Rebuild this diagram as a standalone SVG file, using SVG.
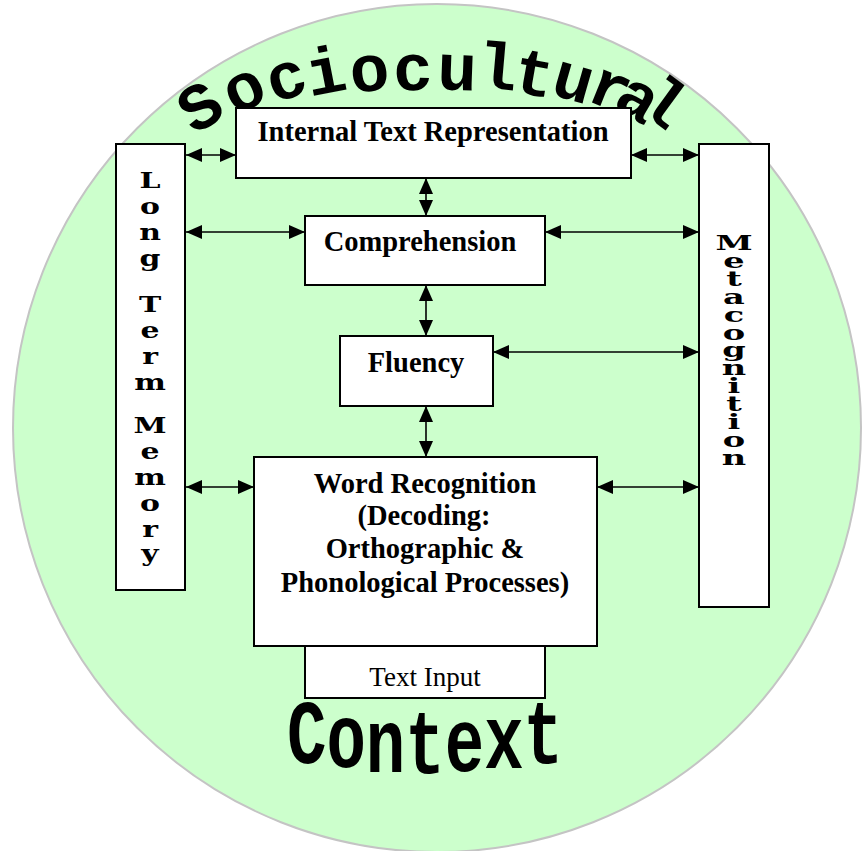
<svg xmlns="http://www.w3.org/2000/svg" width="862" height="851" viewBox="0 0 862 851">
<defs>
<style>
.box{fill:#ffffff;stroke:#000000;stroke-width:2}
.lbl{font-family:"Liberation Serif","Times New Roman",serif;font-weight:bold;font-size:28.5px;fill:#000;text-anchor:middle}
.reg{font-family:"Liberation Serif","Times New Roman",serif;font-size:27px;fill:#000;text-anchor:middle}
.vert{font-family:"DejaVu Serif","Liberation Serif",serif;font-weight:bold;fill:#000;text-anchor:middle}
.big{font-family:"Liberation Mono","Courier New",monospace;font-weight:bold;fill:#000}
.con{fill:none;stroke:#000;stroke-width:1.6;marker-start:url(#ah);marker-end:url(#ah)}
</style>
<marker id="ah" viewBox="0 0 16 14" refX="16" refY="7" markerWidth="16" markerHeight="14" markerUnits="userSpaceOnUse" orient="auto-start-reverse">
<path d="M0,0 L16,7 L0,14 z" fill="#000"/>
</marker>
</defs>
<circle cx="437" cy="428" r="424" fill="#ccffcc" stroke="#c4c4c4" stroke-width="2"/>
<text class="big" font-size="66" x="194.4 234.6 273.2 310.2 351.8 393.7 436.7 476.1 511.1 549.1 584.4 610.9 635.8" y="135.4 115.8 103.2 96.5 93 90.7 89.3 87.2 91.4 94 99.6 106.2 108.7" rotate="-32 -25 -17 -11 -6 -2 2 5 10 16 22 30 36">Sociocultural</text>
<text class="big" font-size="90" transform="scale(0.73,1)" x="393.2 447.2 501.2 555.2 609.2 663.2 717.2" y="763 767 772 773 771 768 763">Context</text>
<g id="itr"><rect class="box" x="236" y="108" width="395" height="70"/><text class="lbl" x="433" y="141">Internal Text Representation</text></g>
<g id="comprehension"><rect class="box" x="305" y="216" width="240" height="69"/><text class="lbl" x="420" y="251">Comprehension</text></g>
<g id="fluency"><rect class="box" x="340" y="336" width="153" height="70"/><text class="lbl" x="416" y="372">Fluency</text></g>
<g id="wordrec"><rect class="box" x="254" y="457" width="343" height="189"/><text class="lbl" x="425" y="493">Word Recognition</text><text class="lbl" x="424" y="525">(Decoding:</text><text class="lbl" x="425" y="558">Orthographic &amp;</text><text class="lbl" x="425" y="592">Phonological Processes)</text></g>
<g id="textinput"><rect class="box" x="305" y="646" width="240" height="52"/><text class="reg" x="425" y="686">Text Input</text></g>
<g id="ltm"><rect class="box" x="116" y="144" width="69" height="446"/><text class="vert" font-size="23" transform="scale(1.3,1)" x="115.4 115.4 115.4 115.4 115.4 115.4 115.4 115.4 115.4 115.4 115.4 115.4 115.4 115.4 115.4 115.4" y="188 214 240 266 290 312 338 364 390 410 433 459 485 511 537 561">Long Term Memory</text></g>
<g id="meta"><rect class="box" x="699" y="144" width="70" height="463"/><text class="vert" font-size="21" transform="scale(1.6,1)" x="458.75 458.75 458.75 458.75 458.75 458.75 458.75 458.75 458.75 458.75 458.75 458.75 458.75" y="250 268 286 304 322 340 357 375 393 411 429 447 465">Metacognition</text></g>
<g id="connectors">
<line class="con" x1="186" y1="155" x2="236" y2="155"/>
<line class="con" x1="631" y1="155" x2="699" y2="155"/>
<line class="con" x1="186" y1="232" x2="305" y2="232"/>
<line class="con" x1="545" y1="232" x2="699" y2="232"/>
<line class="con" x1="493" y1="352" x2="699" y2="352"/>
<line class="con" x1="186" y1="487" x2="254" y2="487"/>
<line class="con" x1="597" y1="487" x2="699" y2="487"/>
<line class="con" x1="426" y1="178" x2="426" y2="216"/>
<line class="con" x1="426" y1="285" x2="426" y2="336"/>
<line class="con" x1="426" y1="406" x2="426" y2="457"/>
</g>
</svg>
